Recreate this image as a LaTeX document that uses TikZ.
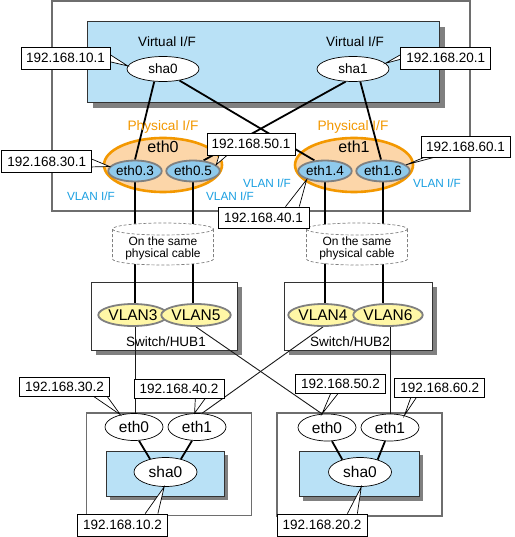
\documentclass[tikz,border=0pt]{standalone}
\usepackage{fontspec}
\setmainfont{Liberation Sans}
\usetikzlibrary{calc,shapes.geometric}
\pgfdeclarelayer{bg}\pgfdeclarelayer{ptr}\pgfdeclarelayer{lab}
\pgfsetlayers{bg,main,ptr,lab}
\definecolor{vif}{HTML}{B9E1F6}
\definecolor{ethblue}{HTML}{8FCAEC}
\definecolor{peach}{HTML}{FCD6A9}
\definecolor{orng}{HTML}{F39800}
\definecolor{yel}{HTML}{FFF7A6}
\definecolor{vlantxt}{HTML}{1BA0E2}
\definecolor{grayb}{HTML}{808080}
\definecolor{boxgray}{HTML}{6E6E6E}
\definecolor{shadowc}{HTML}{808080}
\newcommand{\myfs}[1]{\fontsize{#1pt}{#1pt}\selectfont}
\tikzset{
  outerbox/.style={draw=boxgray, line width=1.3pt},
  hostbox/.style={draw=boxgray, line width=1.6pt},
  swbox/.style={draw=black!80, fill=white, line width=0.8pt},
  vbox/.style={draw=black!80, fill=vif, line width=0.6pt},
  shad/.style={fill=shadowc},
  ipbox/.style={draw=black, fill=white, line width=0.7pt, inner sep=0pt, minimum width=90pt, minimum height=21pt, font=\myfs{13.5}},
  iplow/.style={ipbox, minimum height=19pt},
  ptrline/.style={draw=black, fill=white, line width=0.7pt},
  wellip/.style={ellipse, draw=black, fill=white, line width=0.7pt, inner sep=0pt},
  topsha/.style={wellip, minimum width=72pt, minimum height=25pt, font=\myfs{13.5}},
  hosteth/.style={wellip, minimum width=58pt, minimum height=27pt, font=\myfs{15.5}},
  hostsha/.style={wellip, minimum width=63pt, minimum height=29pt, font=\myfs{15.5}},
  vlanif/.style={ellipse, draw=grayb, fill=ethblue, line width=1.8pt, inner sep=0pt, minimum width=53.5pt, minimum height=21pt, font=\myfs{13.5}},
  phys/.style={ellipse, draw=orng, fill=peach, line width=2.6pt, inner sep=0pt, minimum width=118pt, minimum height=54pt},
  vlanell/.style={ellipse, draw=grayb, fill=yel, line width=1.8pt, inner sep=0pt, minimum width=60pt, minimum height=22pt, font=\myfs{15.5}},
  link/.style={line width=1.8pt},
  thinlink/.style={line width=0.9pt, black!90},
  cyl/.style={draw=grayb, line width=0.7pt, dash pattern=on 3pt off 2pt},
  plain/.style={inner sep=0pt, font=\myfs{13.5}},
  physlbl/.style={inner sep=0pt, font=\myfs{13.7}, text=orng},
  viflbl/.style={inner sep=0pt, font=\myfs{11.8}, text=vlantxt},
}
\begin{document}
\begin{tikzpicture}[x=1pt,y=-1pt]
\useasboundingbox (0,0) rectangle (514,537);
% ---------- background shapes
\begin{pgfonlayer}{bg}
\fill[white] (0,0) rectangle (514,537);
\draw[outerbox] (52,1) rectangle (470,211);
\fill[shad] (93,27) rectangle (445,108);
\draw[vbox] (87,21) rectangle (439,102);
\node[phys] (peth0) at (163,165) {};
\node[phys] (peth1) at (354,165) {};
\fill[shad] (96,287) rectangle (242,355);
\draw[swbox] (91,282) rectangle (237,350);
\fill[shad] (289,287) rectangle (437,355);
\draw[swbox] (284,282) rectangle (432,350);
\draw[hostbox] (86.5,413) rectangle (251.5,515.5);
\fill[shad] (110,455) rectangle (228,500);
\draw[vbox] (106,451) rectangle (224,496);
\draw[hostbox] (276.7,413) rectangle (441.7,515.7);
\fill[shad] (303,455) rectangle (423,500.5);
\draw[vbox] (299,451) rectangle (419,496.5);
\end{pgfonlayer}
% ---------- nodes
\node[plain] (virt0) at (167,42) {Virtual I/F};
\node[plain] (virt1) at (355,42) {Virtual I/F};
\node[topsha] (sha0) at (163,69) {sha0};
\node[topsha] (sha1) at (353,69) {sha1};
\node[physlbl] (phys0) at (163,127) {Physical I/F};
\node[physlbl] (phys1) at (353,127) {Physical I/F};
\node[inner sep=0pt, font=\myfs{16}] (peth0l) at (163,146.5) {eth0};
\node[inner sep=0pt, font=\myfs{16}] (peth1l) at (354,146.5) {eth1};
\node[vlanif] (e03) at (135,171) {eth0.3};
\node[vlanif] (e05) at (193,171) {eth0.5};
\node[vlanif] (e14) at (325,171) {eth1.4};
\node[vlanif] (e16) at (383,171) {eth1.6};
\node[viflbl] (vif1) at (91,196) {VLAN I/F};
\node[viflbl] (vif2) at (230,196) {VLAN I/F};
\node[viflbl] (vif3) at (267,183) {VLAN I/F};
\node[viflbl] (vif4) at (437,183) {VLAN I/F};
\node[vlanell] (v3) at (133,315) {VLAN3};
\node[vlanell] (v5) at (196,315) {VLAN5};
\node[vlanell] (v4) at (323,315) {VLAN4};
\node[vlanell] (v6) at (388,315) {VLAN6};
\node[plain] (hub1) at (166,342) {Switch/HUB1};
\node[plain] (hub2) at (350,342) {Switch/HUB2};
\node[hosteth] (h1e0) at (134,427) {eth0};
\node[hosteth] (h1e1) at (197,427) {eth1};
\node[hostsha] (h1s) at (165.5,472) {sha0};
\node[hosteth] (h2e0) at (327,427.5) {eth0};
\node[hosteth] (h2e1) at (390,427.5) {eth1};
\node[hostsha] (h2s) at (360,472) {sha0};
% ---------- connectors
\begin{pgfonlayer}{bg}
\draw[link] (sha0.235) -- (e03.north);
\draw[link] (sha0.325) -- (e14.135);
\draw[link] (sha1.240) -- (e05.45);
\draw[link] (sha1.300) -- (e16.100);
\draw[link] (e03.south) -- (e03.south |- v3.north);
\draw[link] (e05.south) -- (e05.south |- v5.north);
\draw[link] (e14.south) -- (e14.south |- v4.north);
\draw[link] (e16.south) -- (e16.south |- v6.north);
\draw[thinlink] (e03.south |- v3.south) -- (e03.south |- h1e0.north);
\draw[thinlink] (v5.south) -- (h2e0.110);
\draw[thinlink] (v4.south) -- (h1e1.70);
\draw[thinlink] (h2e1.north |- v6.south) -- (h2e1.north);
\draw[link] (h1e0.290) -- (h1s.140);
\draw[link] (h1e1.250) -- (h1s.40);
\draw[link] (h2e0.290) -- (h2s.145);
\draw[link] (h2e1.250) -- (h2s.35);
\end{pgfonlayer}
% ---------- cylinders
\fill[white] (112.5,229) -- (112.5,259) arc[start angle=180,end angle=0,x radius=50.5,y radius=6] -- (213.5,229) arc[start angle=0,end angle=-180,x radius=50.5,y radius=6] -- cycle;
\draw[cyl] (163,229) ellipse[x radius=50.5,y radius=6];
\draw[cyl] (112.5,229) -- (112.5,259) arc[start angle=180,end angle=0,x radius=50.5,y radius=6] -- (213.5,229);
\node[inner sep=0pt, align=center, font=\myfs{12}] (cyl1) at (163,248) {On the same\\physical cable};
\fill[white] (306.5,229) -- (306.5,259) arc[start angle=180,end angle=0,x radius=50.5,y radius=6] -- (407.5,229) arc[start angle=0,end angle=-180,x radius=50.5,y radius=6] -- cycle;
\draw[cyl] (357,229) ellipse[x radius=50.5,y radius=6];
\draw[cyl] (306.5,229) -- (306.5,259) arc[start angle=180,end angle=0,x radius=50.5,y radius=6] -- (407.5,229);
\node[inner sep=0pt, align=center, font=\myfs{12}] (cyl2) at (357,248) {On the same\\physical cable};
% ---------- address labels
\begin{pgfonlayer}{lab}
\node[ipbox, minimum width=89pt, minimum height=22pt] (l101) at (65.5,58) {192.168.10.1};
\node[ipbox, minimum width=90pt, minimum height=22pt] (l201) at (445.7,58) {192.168.20.1};
\node[ipbox, minimum width=90pt, minimum height=22pt] (l301) at (46.7,161.7) {192.168.30.1};
\node[ipbox, minimum width=88pt, minimum height=22pt] (l501) at (251,144) {192.168.50.1};
\node[ipbox, minimum width=89pt, minimum height=21pt] (l601) at (465.5,146.5) {192.168.60.1};
\node[ipbox, minimum width=91pt, minimum height=21pt] (l401) at (263.5,217.5) {192.168.40.1};
\node[iplow] (l302) at (64.5,386.5) {192.168.30.2};
\node[iplow] (l402) at (179,388.5) {192.168.40.2};
\node[iplow] (l502) at (340.5,384) {192.168.50.2};
\node[iplow] (l602) at (439.7,388) {192.168.60.2};
\node[ipbox, minimum height=22pt] (l102) at (122.5,525) {192.168.10.2};
\node[ipbox, minimum height=22pt] (l202) at (322,525) {192.168.20.2};
\end{pgfonlayer}
\begin{pgfonlayer}{ptr}
\filldraw[ptrline] ($(l101.south east)!0.64!(l101.north east)$) -- (sha0.175) -- ($(l101.south east)!0.33!(l101.north east)$);
\filldraw[ptrline] ($(l201.south west)!0.64!(l201.north west)$) -- (sha1.10) -- ($(l201.south west)!0.44!(l201.north west)$);
\filldraw[ptrline] ($(l301.south east)!0.61!(l301.north east)$) -- (e03.170) -- ($(l301.south east)!0.27!(l301.north east)$);
\filldraw[ptrline] ($(l501.south west)!0.14!(l501.south east)$) -- (e05.15) -- ($(l501.south west)!0.23!(l501.south east)$);
\filldraw[ptrline] ($(l601.south west)!0.04!(l601.south east)$) -- (e16.15) -- ($(l601.south west)!0.15!(l601.south east)$);
\filldraw[ptrline] ($(l401.north west)!0.74!(l401.north east)$) -- (e14.205) -- ($(l401.north west)!0.89!(l401.north east)$);
\filldraw[ptrline] ($(l302.south west)!0.82!(l302.south east)$) -- (h1e0.138) -- ($(l302.south west)!0.97!(l302.south east)$);
\filldraw[ptrline] ($(l402.south west)!0.68!(l402.south east)$) -- (h1e1.100) -- ($(l402.south west)!0.79!(l402.south east)$);
\filldraw[ptrline] ($(l502.south west)!0.39!(l502.south east)$) -- (h2e0.110) -- ($(l502.south west)!0.47!(l502.south east)$);
\filldraw[ptrline] ($(l602.south west)!0.18!(l602.south east)$) -- (h2e1.40) -- ($(l602.south west)!0.24!(l602.south east)$);
\filldraw[ptrline] ($(l102.north west)!0.75!(l102.north east)$) -- (h1s.265) -- ($(l102.north west)!0.89!(l102.north east)$);
\filldraw[ptrline] ($(l202.north west)!0.78!(l202.north east)$) -- (h2s.275) -- ($(l202.north west)!0.89!(l202.north east)$);
\end{pgfonlayer}
\end{tikzpicture}
\end{document}
